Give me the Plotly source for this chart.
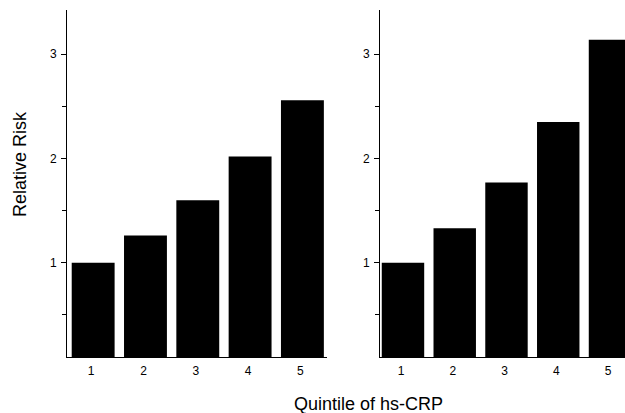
import plotly.graph_objects as go

quintiles = [1, 2, 3, 4, 5]
rr_left = [1.00, 1.26, 1.60, 2.02, 2.56]
rr_right = [1.00, 1.33, 1.77, 2.35, 3.14]
y_ticks = [1, 2, 3]
y_minor = [0.5, 1.5, 2.5]

W, H = 625, 413
FONT = "Liberation Sans, Arial, sans-serif"

fig = go.Figure()
fig.add_trace(go.Bar(x=quintiles, y=rr_left, marker=dict(color="black", line=dict(width=0)),
                     xaxis="x", yaxis="y", showlegend=False))
fig.add_trace(go.Bar(x=quintiles, y=rr_right, marker=dict(color="black", line=dict(width=0)),
                     xaxis="x2", yaxis="y2", showlegend=False))

ydom = [(H - 357) / H, (H - 10) / H]
yrange = [0.095, 3.425]

common_y = dict(range=yrange, tickmode="array", tickvals=y_ticks, ticks="outside", ticklen=5,
                tickcolor="black", tickwidth=1, showline=True, linecolor="black", linewidth=1,
                showgrid=False, zeroline=False, tickfont=dict(size=12, color="black", family=FONT),
                ticklabelstandoff=2,
                minor=dict(tickmode="array", tickvals=y_minor, ticks="outside", ticklen=4,
                           tickcolor="black", showgrid=False),
                domain=ydom)
common_x = dict(tickmode="array", tickvals=quintiles, ticks="", showline=True, linecolor="black",
                linewidth=1, showgrid=False, zeroline=False,
                tickfont=dict(size=12, color="black", family=FONT), ticklabelstandoff=3,
                ticklabelshift=-2)

fig.update_layout(
    width=W, height=H,
    margin=dict(l=0, r=0, t=0, b=0),
    paper_bgcolor="white", plot_bgcolor="white",
    bargap=0.18,
    font=dict(family=FONT, color="black"),
    xaxis=dict(domain=[67 / W, 327 / W], range=[0.5, 5.47], anchor="y", **common_x),
    xaxis2=dict(domain=[380 / W, 1.0], range=[0.556, 5.29], anchor="y2", **common_x),
    yaxis=dict(anchor="x", **common_y),
    yaxis2=dict(anchor="x2", **common_y),
    annotations=[
        dict(text="Relative Risk", x=20 / W, y=(H - 164) / H, xref="paper", yref="paper",
             textangle=-90, showarrow=False, xanchor="center", yanchor="middle",
             font=dict(size=18, family=FONT, color="black")),
        dict(text="Quintile of hs-CRP", x=368 / W, y=(H - 404) / H, xref="paper", yref="paper",
             showarrow=False, xanchor="center", yanchor="middle",
             font=dict(size=18, family=FONT, color="black")),
    ],
)

fig.write_html("out.html", config={"displayModeBar": False},
               post_script="document.body.style.margin='0';document.body.style.overflow='hidden';")
